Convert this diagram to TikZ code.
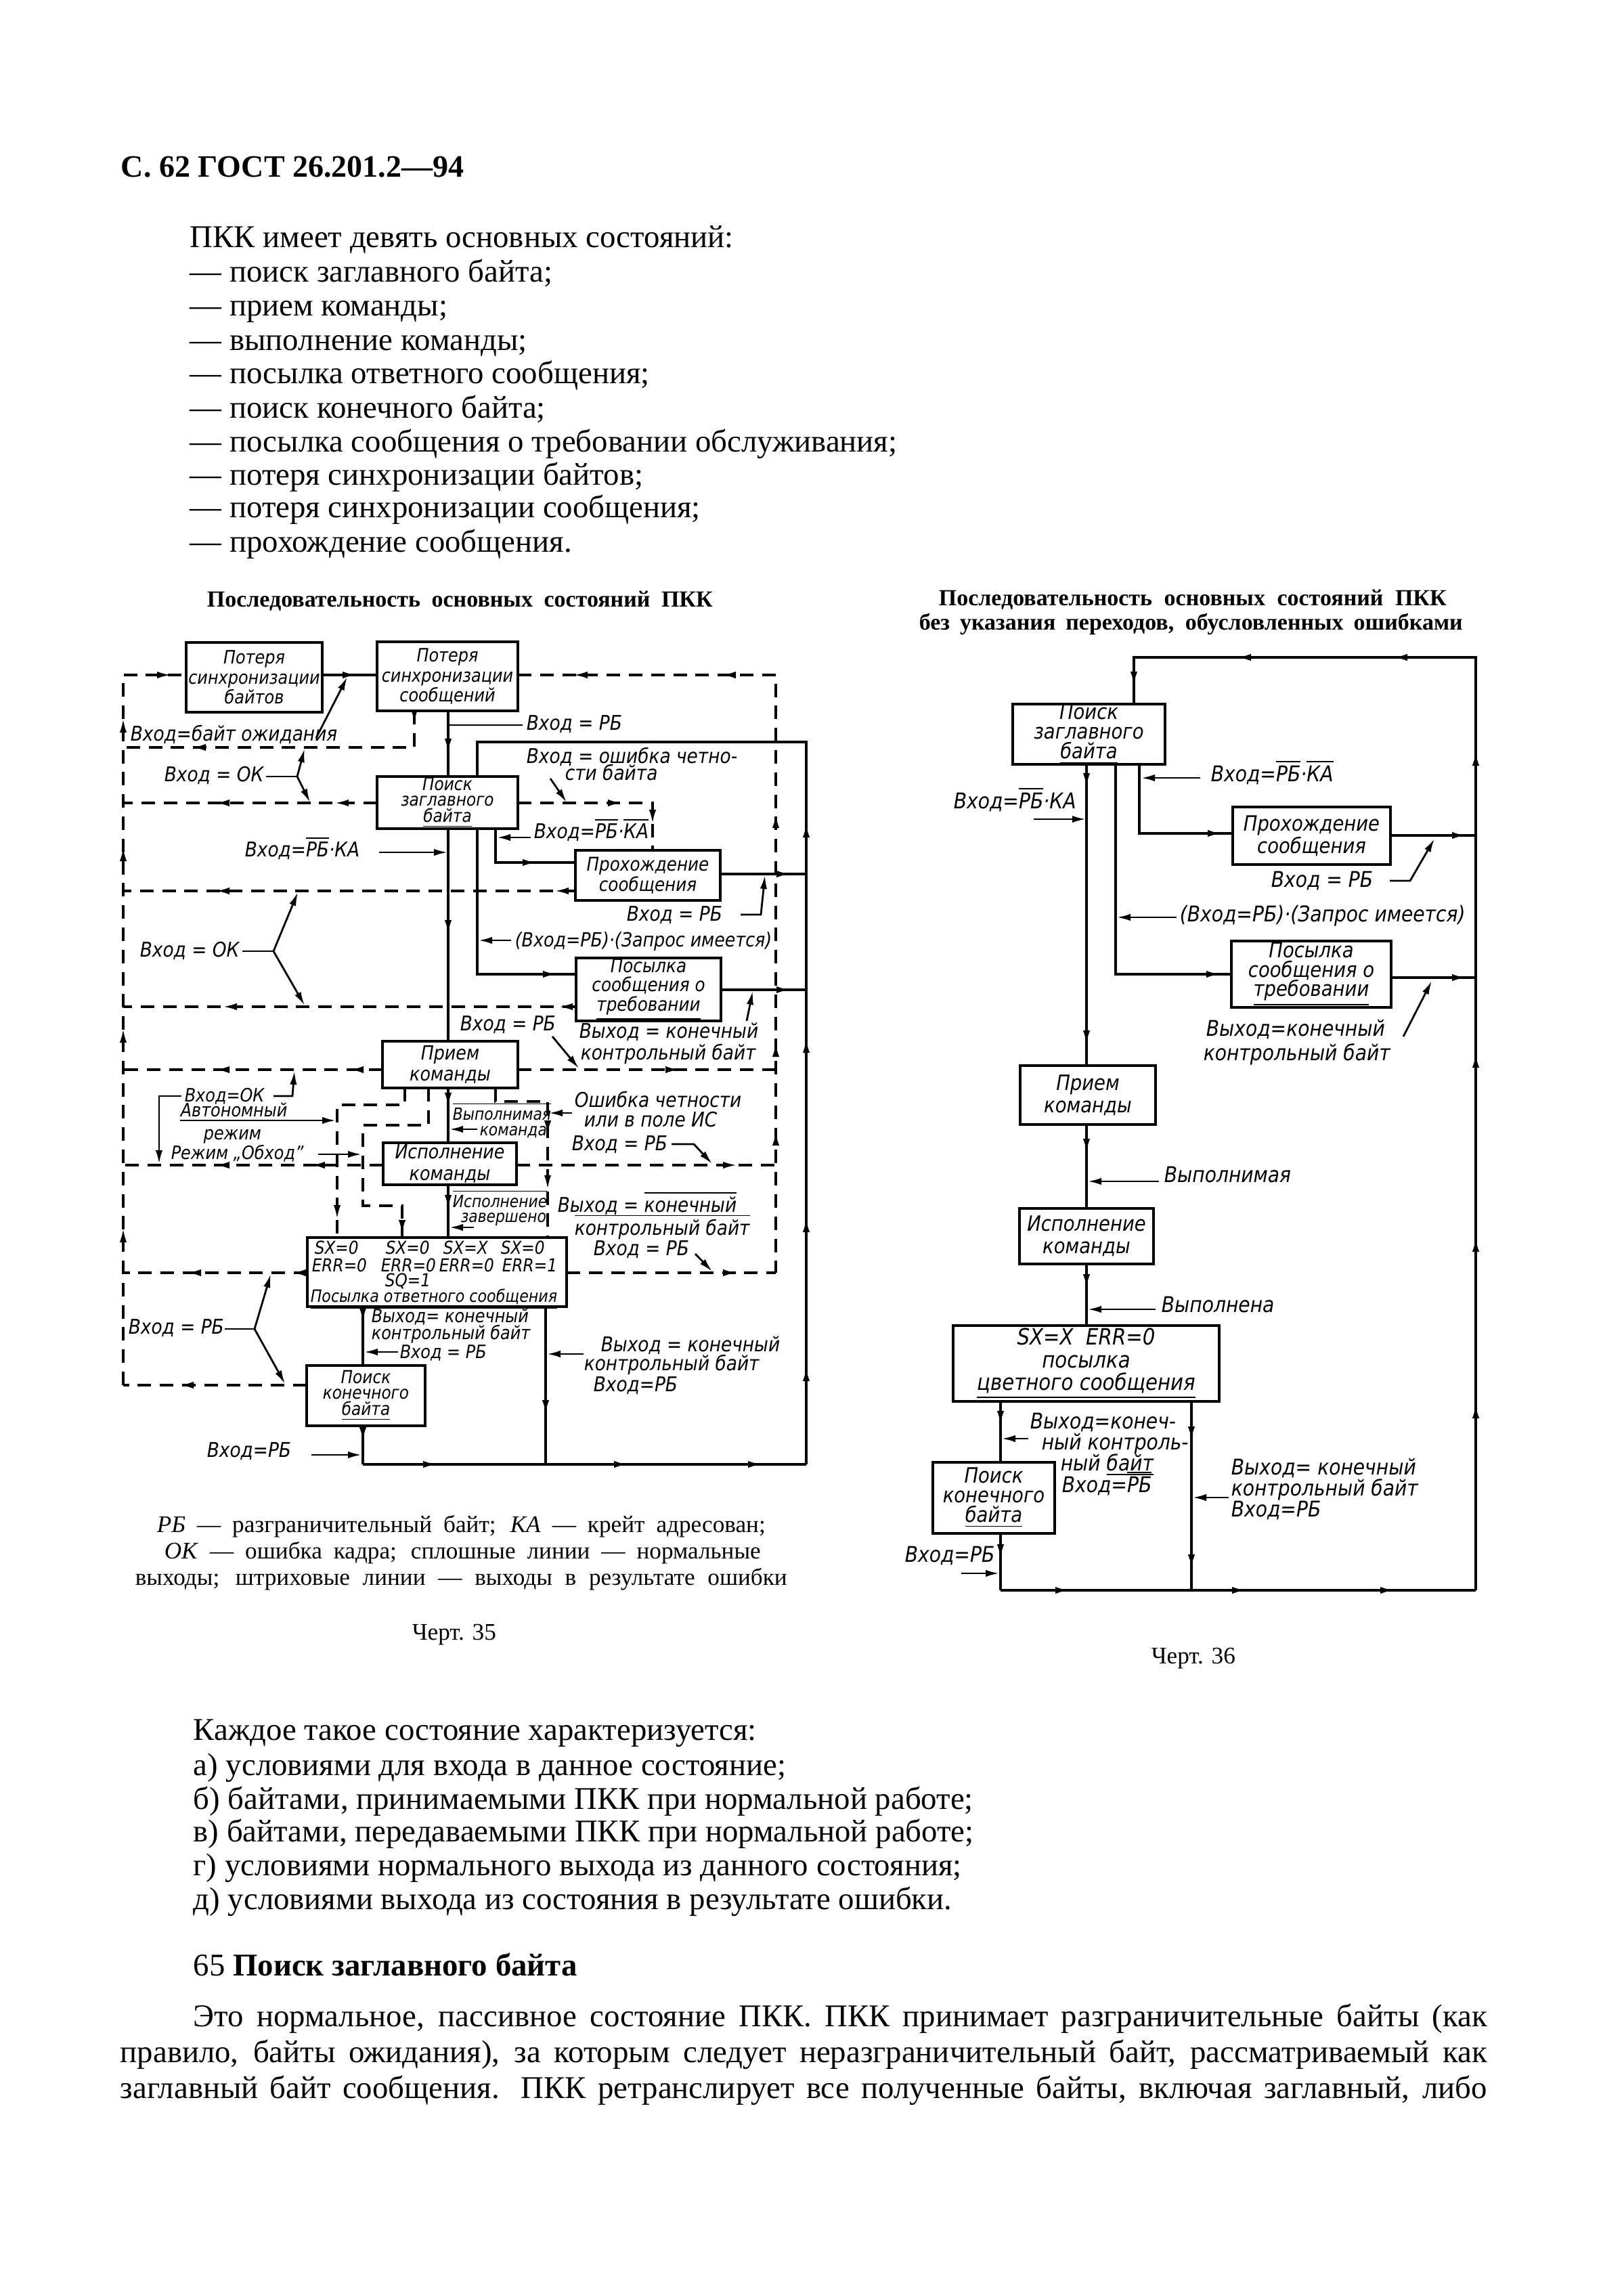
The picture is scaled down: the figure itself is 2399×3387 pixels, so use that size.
\documentclass[tikz,border=0pt]{standalone}
\usepackage{fontspec}
\setmainfont{Liberation Serif}
\newfontfamily\gost[FakeStretch=0.88]{DejaVu Sans}
\usetikzlibrary{arrows.meta}
\newcommand\ol[1]{\ensuremath{\overline{\hbox{#1}}}}
\newcommand\AR[2]{\draw[tipst] ({#1-20},#2) -- (#1,#2);}
\newcommand\AL[2]{\draw[tipst] ({#1+20},#2) -- (#1,#2);}
\newcommand\AD[2]{\draw[tipst] (#1,{#2-20}) -- (#1,#2);}
\newcommand\AU[2]{\draw[tipst] (#1,{#2+20}) -- (#1,#2);}
\newcommand\bx[7][]{\node[box,#1, minimum width={(#5-#3)*0.25pt}, minimum height={(#6-#4)*0.25pt}] (#2) at ({(#3+#5)/2},{(#4+#6)/2}) {#7};}
\newcommand\lab[5][]{\node[lb,#1] (#2) at (#3,#4) {#5};}
\tikzset{
 box/.style={draw, line width=1.2pt, inner sep=0pt, align=center, font=\gost\itshape\fontsize{6.8}{7.4}\selectfont},
 cramp/.style={font=\gost\itshape\fontsize{6.6}{5.9}\selectfont},
 rbox/.style={font=\gost\itshape\fontsize{7.8}{8.2}\selectfont},
 rcramp/.style={font=\gost\itshape\fontsize{7.8}{7.2}\selectfont},
 sline/.style={line width=1.0pt},
 dline/.style={line width=0.8pt, dash pattern=on 5pt off 3.2pt},
 thin/.style={line width=0.7pt},
 tipst/.style={-{Latex[length=5pt,width=2.6pt]}, line width=0.7pt},
 lb/.style={font=\gost\itshape\fontsize{7.5}{8}\selectfont, inner sep=0pt, anchor=mid west},
 lbs/.style={font=\gost\itshape\fontsize{6.2}{7}\selectfont},
 lbm/.style={font=\gost\itshape\fontsize{6.8}{7}\selectfont},
 lbr/.style={font=\gost\itshape\fontsize{8}{8.5}\selectfont},
 txt/.style={anchor=base west, inner sep=0pt, font=\fontsize{11.7}{12}\selectfont},
 ttl/.style={anchor=base west, inner sep=0pt, font=\bfseries\fontsize{8.5}{9}\selectfont},
 capt/.style={anchor=mid west, inner sep=0pt, font=\fontsize{8.8}{9}\selectfont},
}
\begin{document}
\begin{tikzpicture}[x=0.25pt,y=-0.25pt]
\useasboundingbox (0,0) rectangle (2399,3387);
\fill[white] (0,0) rectangle (2399,3387);

% ---------- page text ----------
\node[anchor=base west, inner sep=0pt, font=\bfseries\fontsize{11.5}{12}\selectfont] (hdr) at (178,261) {С. 62 ГОСТ 26.201.2—94};
\node[txt] (t1) at (280,365) {ПКК имеет девять основных состояний:};
\node[txt] (t2) at (280,416) {— поиск заглавного байта;};
\node[txt] (t3) at (280,466) {— прием команды;};
\node[txt] (t4) at (280,517) {— выполнение команды;};
\node[txt] (t5) at (280,566) {— посылка ответного сообщения;};
\node[txt] (t6) at (280,617) {— поиск конечного байта;};
\node[txt] (t7) at (280,667) {— посылка сообщения о требовании обслуживания;};
\node[txt] (t8) at (280,716) {— потеря синхронизации байтов;};
\node[txt] (t9) at (280,764) {— потеря синхронизации сообщения;};
\node[txt] (t10) at (280,815) {— прохождение сообщения.};

\node[ttl] (lt) at (305,896) {\makebox[186.75pt][s]{Последовательность основных состояний ПКК}};
\node[ttl] (rt1) at (1386,894) {\makebox[187.5pt][s]{Последовательность основных состояний ПКК}};
\node[ttl] (rt2) at (1357,930) {\makebox[200.75pt][s]{без указания переходов, обусловленных ошибками}};

% ---------- left diagram: boxes ----------
\bx{A}{275}{949}{476}{1052}{Потеря\\синхронизации\\байтов}
\bx{B}{557}{948}{765}{1050}{Потеря\\синхронизации\\сообщений}
\bx[cramp]{C}{557}{1147}{765}{1224}{Поиск\\заглавного\\\underline{байта}}
\bx[font=\gost\itshape\fontsize{7}{7.6}\selectfont]{D}{850}{1256}{1064}{1330}{Прохождение\\сообщения}
\bx[font=\gost\itshape\fontsize{7}{7.2}\selectfont]{D2}{851}{1415}{1065}{1508}{Посылка\\сообщения о\\\underline{требовании}}
\bx[font=\gost\itshape\fontsize{7.2}{7.8}\selectfont]{E}{565}{1538}{765}{1607}{Прием\\команды}
\bx[font=\gost\itshape\fontsize{7.2}{7.8}\selectfont]{F}{566}{1688}{763}{1750}{Исполнение\\команды}
\bx{SX}{454}{1828}{837}{1930}{}
\bx[cramp]{G}{453}{2017}{628}{2106}{Поиск\\конечного\\\underline{байта}}

\lab[lbs,font=\gost\itshape\fontsize{6.6}{7}\selectfont]{sx1}{464}{1843}{SX=0}
\lab[lbs,font=\gost\itshape\fontsize{6.6}{7}\selectfont]{sx2}{569}{1843}{SX=0}
\lab[lbs,font=\gost\itshape\fontsize{6.6}{7}\selectfont]{sx3}{654}{1843}{SX=X}
\lab[lbs,font=\gost\itshape\fontsize{6.6}{7}\selectfont]{sx4}{739}{1843}{SX=0}
\lab[lbs,font=\gost\itshape\fontsize{6.6}{7}\selectfont]{er1}{460}{1869}{ERR=0}
\lab[lbs,font=\gost\itshape\fontsize{6.6}{7}\selectfont]{er2}{562}{1869}{ERR=0}
\lab[lbs,font=\gost\itshape\fontsize{6.6}{7}\selectfont]{er3}{648}{1869}{ERR=0}
\lab[lbs,font=\gost\itshape\fontsize{6.6}{7}\selectfont]{er4}{741}{1869}{ERR=1}
\lab[lbs,font=\gost\itshape\fontsize{6.6}{7}\selectfont]{sq}{568}{1891}{SQ=1}
\lab[lbs,font=\gost\itshape\fontsize{6.3}{7}\selectfont]{sxt}{458}{1914}{\underline{Посылка ответного сообщения}}

% ---------- left diagram: dashed lines ----------
\draw[dline] (182,2046) -- (182,997) -- (275,997);
\draw[dline] (765,997) -- (1146,997) -- (1146,1880);
\draw[dline] (612,1050) -- (612,1104) -- (182,1104);
\draw[dline] (557,1186) -- (182,1186);
\draw[dline] (765,1186) -- (964,1186) -- (964,1256);
\draw[dline] (850,1316) -- (182,1316);
\draw[dline] (851,1487) -- (182,1487);
\draw[dline] (565,1580) -- (182,1580);
\draw[dline] (765,1580) -- (1146,1580);
\draw[dline] (598,1607) -- (598,1632) -- (498,1632) -- (498,1828);
\draw[dline] (633,1607) -- (633,1662) -- (536,1662) -- (536,1781) -- (594,1781) -- (594,1828);
\draw[dline] (732,1607) -- (732,1627) -- (809,1627) -- (809,1828);
\draw[dline] (566,1721) -- (182,1721);
\draw[dline] (763,1721) -- (1146,1721);
\draw[dline] (454,1880) -- (182,1880);
\draw[dline] (837,1880) -- (1146,1880);
\draw[dline] (453,2046) -- (182,2046);

\AR{252}{997} \AL{848}{997} \AL{1067}{997}
\AD{612}{1068} \AL{284}{1104}
\AL{495}{1186} \AL{319}{1186}
\AR{918}{1186} \AD{964}{1216}
\AL{820}{1316} \AL{319}{1316}
\AL{826}{1487} \AL{330}{1487}
\AL{517}{1580} \AL{319}{1580} \AR{1003}{1580}
\AL{460}{1721} \AL{319}{1721} \AR{1088}{1721}
\AL{432}{1880} \AL{277}{1880} \AR{1088}{1880}
\AL{266}{2046}
\AD{498}{1800} \AD{594}{1822}
\AD{809}{1675} \AD{809}{1756}
\AU{182}{1062} \AU{182}{1252} \AU{182}{1520} \AU{182}{1815}
\AU{1146}{1203} \AU{1146}{1541} \AU{1146}{1672}

% ---------- left diagram: solid lines ----------
\draw[sline] (A.east |- 0,997) -- (B.west |- 0,997);
\AR{526}{997}
\draw[sline] (662,1050) -- (662,1147);
\AD{662}{1111}
\draw[thin] (662,1071) -- (772,1071);
\draw[sline] (1191,2163) -- (1191,1096) -- (705,1096) -- (705,1147);
\draw[sline] (662,1224) -- (662,1538);
\AD{662}{1379}
\draw[sline] (705,1224) -- (705,1439) -- (851,1439);
\AR{822}{1439}
\draw[sline] (732,1224) -- (732,1274) -- (850,1274);
\AR{792}{1274}
\draw[sline] (1064,1291) -- (1191,1291);
\AR{1167}{1291}
\draw[sline] (1065,1462) -- (1191,1462);
\AR{1167}{1462}
\draw[sline] (662,1607) -- (662,1688);
\AD{662}{1634}
\draw[sline] (662,1750) -- (662,1828);
\AD{662}{1785}
\draw[sline] (536,1930) -- (536,2017);
\AD{536}{1952}
\draw[sline] (806,1930) -- (806,2163);
\AD{806}{2088}
\draw[sline] (536,2106) -- (536,2163);
\AD{536}{2128}
\draw[sline] (536,2163) -- (1191,2163);
\AR{645}{2163} \AR{927}{2163} \AR{1125}{2163}
\AU{1191}{1217} \AU{1191}{1535} \AU{1191}{1800} \AU{1191}{2020}

% ---------- left diagram: labels ----------
\lab{l1}{192}{1085}{Вход=байт ожидания}
\draw[tipst] (467,1090) -- (513,1000);
\lab{l2}{777}{1069}{Вход = РБ}
\lab{l3}{242}{1145}{Вход = ОК}
\draw[thin] (393,1147) -- (439,1147);
\draw[tipst] (439,1147) -- (450,1106);
\draw[tipst] (439,1147) -- (458,1185);
\lab{l4}{777}{1118}{Вход = ошибка четно-}
\lab{l5}{834}{1143}{сти байта}
\draw[tipst] (813,1150) -- (837,1185);
\lab{l6}{788}{1229}{Вход=\ol{РБ}·\ol{КА}}
\draw[tipst] (784,1237) -- (734,1237);
\lab{l7}{361}{1256}{Вход=\ol{РБ}·КА}
\draw[tipst] (560,1259) -- (661,1259);
\lab[font=\gost\itshape\fontsize{7.2}{8}\selectfont]{l8}{760}{1389}{(Вход=РБ)·(Запрос имеется)}
\draw[tipst] (755,1389) -- (707,1389);
\lab{l9}{925}{1351}{Вход = РБ}
\draw[tipst] (1094,1351) -- (1124,1351) -- (1130,1293);
\lab{l10}{206}{1404}{Вход = ОК}
\draw[thin] (358,1405) -- (404,1405);
\draw[tipst] (404,1405) -- (440,1318);
\draw[tipst] (404,1405) -- (450,1485);
\lab{l11}{679}{1513}{Вход = РБ}
\draw[tipst] (816,1531) -- (855,1578);
\lab{l12}{855}{1524}{Выход = конечный}
\lab{l13}{857}{1556}{контрольный байт}
\draw[tipst] (1103,1508) -- (1112,1464);
\lab[lbm]{l14}{272}{1618}{Вход=ОК}
\draw[tipst] (404,1619) -- (432,1619) -- (435,1582);
\draw[tipst] (268,1619) -- (235,1619) -- (235,1719);
\lab[lbm]{l15}{266}{1640}{Автономный}
\draw[tipst] (266,1655) -- (496,1655);
\lab[lbm]{l16}{300}{1674}{режим}
\lab[lbm]{l17}{252}{1703}{Режим „Обход”}
\draw[tipst] (470,1705) -- (534,1705);
\lab[lbs]{l18}{668}{1645}{\ol{Выполнимая}}
\lab[lbs]{l19}{708}{1668}{команда}
\draw[tipst] (705,1668) -- (664,1668);
\lab{l20}{848}{1626}{Ошибка четности}
\lab{l21}{862}{1655}{или в поле ИС}
\draw[tipst] (845,1644) -- (811,1644);
\lab{l22}{844}{1690}{Вход = РБ}
\draw[tipst] (992,1690) -- (1025,1690) -- (1052,1719);
\lab[lbs]{l23}{668}{1774}{\ol{Исполнение}}
\lab[lbs]{l24}{680}{1796}{завершено}
\draw[tipst] (700,1813) -- (664,1813);
\lab{l25}{823}{1781}{Выход = \ol{конечный}}
\lab{l26}{848}{1815}{\ol{контрольный байт}}
\lab{l27}{876}{1845}{Вход = РБ}
\draw[tipst] (1027,1852) -- (1052,1878);
\lab{l28}{189}{1961}{Вход = РБ}
\draw[thin] (332,1963) -- (376,1963);
\draw[tipst] (376,1963) -- (400,1882);
\draw[tipst] (376,1963) -- (421,2044);
\lab[lbm]{l29}{548}{1944}{Выход= конечный}
\lab[lbm]{l30}{548}{1969}{контрольный байт}
\lab[lbm]{l31}{590}{1997}{Вход = РБ}
\draw[tipst] (588,1997) -- (538,1997);
\lab{l32}{887}{1987}{Выход = конечный}
\lab{l33}{862}{2015}{контрольный байт}
\lab{l34}{876}{2046}{Вход=РБ}
\draw[tipst] (862,2000) -- (808,2000);
\lab{l35}{305}{2143}{Вход=РБ}
\draw[tipst] (460,2149) -- (534,2149);

\node[capt] (c1) at (231,2254) {\makebox[224.75pt][s]{\textit{РБ} — разграничительный байт; \textit{КА} — крейт адресован;}};
\node[capt] (c2) at (242,2293) {\makebox[220.25pt][s]{\textit{ОК} — ошибка кадра; сплошные линии — нормальные}};
\node[capt] (c3) at (199,2332) {\makebox[240.75pt][s]{выходы; штриховые линии — выходы в результате ошибки}};
\node[capt] (ch35) at (608,2413) {Черт. 35};

% ---------- right diagram ----------
\bx[rcramp]{R1}{1496}{1040}{1721}{1129}{Поиск\\заглавного\\\underline{байта}}
\bx[rbox]{R2}{1821}{1192}{2054}{1277}{Прохождение\\сообщения}
\bx[rcramp]{R2b}{1819}{1390}{2055}{1488}{Посылка\\сообщения о\\\underline{требовании}}
\bx[rbox]{R3}{1507}{1574}{1707}{1661}{Прием\\команды}
\bx[rbox]{R4}{1506}{1785}{1704}{1867}{Исполнение\\команды}
\bx[font=\gost\itshape\fontsize{8.3}{8.4}\selectfont]{R5}{1408}{1958}{1801}{2070}{SX=X\ \ ERR=0\\посылка\\\underline{цветного сообщения}}
\bx[rcramp]{R6}{1378}{2160}{1558}{2265}{Поиск\\конечного\\\underline{байта}}

\draw[sline] (2180,2349) -- (2180,971) -- (1675,971) -- (1675,1040);
\AL{1828}{971} \AL{2059}{971} \AD{1675}{1012}
\AU{2180}{1111} \AU{2180}{1557} \AU{2180}{1829} \AU{2180}{2075}
\draw[sline] (1605,1129) -- (1605,1574);
\AD{1605}{1162} \AD{1605}{1542}
\draw[sline] (1648,1129) -- (1648,1439) -- (1819,1439);
\AR{1802}{1439}
\draw[sline] (1683,1129) -- (1683,1231) -- (1821,1231);
\AR{1804}{1231}
\lab[lbr]{r1}{1408}{1185}{Вход=\ol{РБ}·КА}
\draw[tipst] (1527,1210) -- (1604,1210);
\lab[lbr]{r2}{1788}{1145}{Вход=\ol{РБ}·\ol{КА}}
\draw[tipst] (1773,1149) -- (1686,1149);
\draw[sline] (2054,1234) -- (2180,1234);
\AR{2165}{1234}
\lab[lbr]{r3}{1877}{1301}{Вход = РБ}
\draw[tipst] (2053,1301) -- (2083,1301) -- (2119,1239);
\lab[lbr]{r4}{1742}{1352}{(Вход=РБ)·(Запрос имеется)}
\draw[tipst] (1738,1355) -- (1650,1355);
\draw[sline] (2055,1444) -- (2180,1444);
\AR{2165}{1444}
\lab[lbr]{r5}{1781}{1521}{Выход=конечный}
\lab[lbr]{r6}{1777}{1557}{контрольный байт}
\draw[tipst] (2073,1531) -- (2115,1449);
\draw[sline] (1605,1661) -- (1605,1785);
\AD{1605}{1702}
\lab[lbr]{r7}{1719}{1737}{Выполнимая}
\draw[tipst] (1712,1745) -- (1607,1745);
\draw[sline] (1605,1867) -- (1605,1958);
\AD{1605}{1902}
\lab[lbr]{r8}{1715}{1929}{Выполнена}
\draw[tipst] (1707,1934) -- (1607,1934);
\draw[sline] (1478,2070) -- (1478,2160);
\AD{1478}{2104}
\draw[tipst] (1519,2125) -- (1480,2125);
\lab[lbr]{r9}{1521}{2101}{Выход=конеч-}
\lab[lbr]{r10}{1538}{2132}{ный контроль-}
\lab[lbr]{r11}{1566}{2163}{ный \underline{байт}}
\lab[lbr]{r12}{1568}{2195}{Вход=\ol{РБ}}
\draw[sline] (1760,2070) -- (1760,2349);
\AD{1760}{2127} \AD{1760}{2316}
\draw[tipst] (1815,2212) -- (1762,2212);
\lab[lbr]{r13}{1818}{2169}{Выход= конечный}
\lab[lbr]{r14}{1818}{2200}{контрольный байт}
\lab[lbr]{r15}{1818}{2231}{Вход=РБ}
\draw[sline] (1478,2265) -- (1478,2349);
\AD{1478}{2301}
\lab[lbr]{r16}{1336}{2298}{Вход=РБ}
\draw[tipst] (1420,2324) -- (1476,2324);
\draw[sline] (1478,2349) -- (2180,2349);
\AR{1579}{2349} \AR{1840}{2349} \AR{2059}{2349}
\node[capt] (ch36) at (1700,2448) {Черт. 36};

% ---------- bottom text ----------
\node[txt] (b1) at (285,2570) {Каждое такое состояние характеризуется:};
\node[txt] (b2) at (285,2622) {а) условиями для входа в данное состояние;};
\node[txt] (b3) at (285,2672) {б) байтами, принимаемыми ПКК при нормальной работе;};
\node[txt] (b4) at (285,2720) {в) байтами, передаваемыми ПКК при нормальной работе;};
\node[txt] (b5) at (285,2770) {г) условиями нормального выхода из данного состояния;};
\node[txt] (b6) at (285,2820) {д) условиями выхода из состояния в результате ошибки.};
\node[txt] (b7) at (285,2918) {65 \textbf{Поиск заглавного байта}};
\node[txt] (b8) at (285,2993) {\makebox[477.75pt][s]{Это нормальное, пассивное состояние ПКК. ПКК принимает разграничительные байты (как}};
\node[txt] (b9) at (177,3046) {\makebox[504.75pt][s]{правило, байты ожидания), за которым следует неразграничительный байт, рассматриваемый как}};
\node[txt] (b10) at (177,3099) {\makebox[504.75pt][s]{заглавный байт сообщения. ПКК ретранслирует все полученные байты, включая заглавный, либо}};
\end{tikzpicture}
\end{document}
